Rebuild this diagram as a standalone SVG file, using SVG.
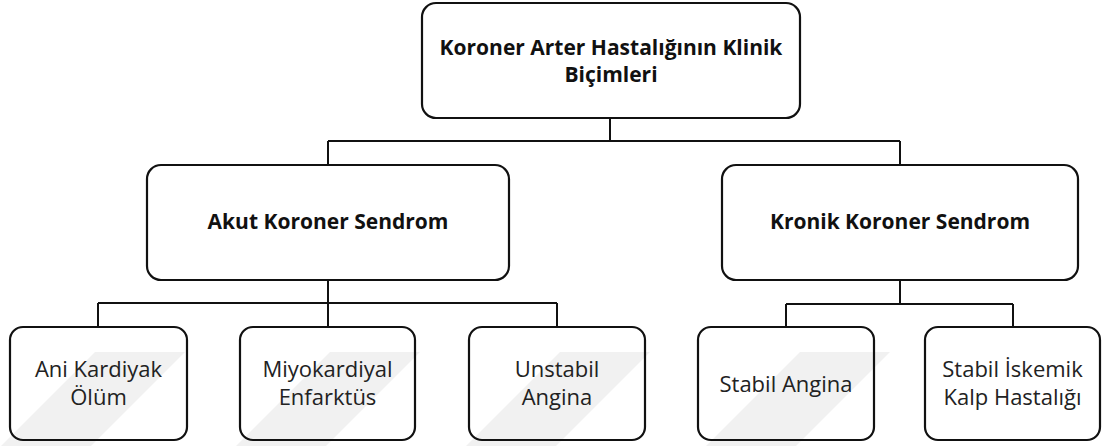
<svg xmlns="http://www.w3.org/2000/svg" width="1105" height="446" viewBox="0 0 1105 446">
  <style>
    .box { fill: none; stroke: #111; stroke-width: 2.2; }
    .conn { fill: none; stroke: #111; stroke-width: 2; }
    .wm { fill: #f1f1f1; }
    .b { font-family: "Open Sans", "Noto Sans", sans-serif; font-weight: bold; font-size: 21px; fill: #111; text-anchor: middle; }
    .r { font-family: "Open Sans", "Noto Sans", sans-serif; font-size: 22px; fill: #222; text-anchor: middle; }
  </style>
  <rect width="1105" height="446" fill="#fff"/>
  <g id="watermark">
    <polygon class="wm" points="95,352 185,352 91,446 1,446"/>
    <polygon class="wm" points="330,352 420,352 326,446 236,446"/>
    <polygon class="wm" points="560,352 650,352 556,446 466,446"/>
    <polygon class="wm" points="800,352 890,352 796,446 706,446"/>
  </g>
  <g id="connectors">
    <path class="conn" d="M610,118 V141 M328,141 H900 M328,141 V165 M900,141 V165"/>
    <path class="conn" d="M328,280 V303 M98,303 H557 M98,303 V327 M328,303 V327 M557,303 V327"/>
    <path class="conn" d="M900,280 V304 M786,304 H1013 M786,304 V327 M1013,304 V327"/>
  </g>
  <g id="n-root">
    <rect class="box" x="422" y="3" width="378" height="115" rx="14"/>
    <text class="b" x="611" y="55">Koroner Arter Hastalığının Klinik</text>
    <text class="b" x="611" y="82">Biçimleri</text>
  </g>
  <g id="n-akut">
    <rect class="box" x="147" y="165" width="362" height="115" rx="14"/>
    <text class="b" x="328" y="229">Akut Koroner Sendrom</text>
  </g>
  <g id="n-kronik">
    <rect class="box" x="722" y="165" width="356" height="115" rx="14"/>
    <text class="b" x="900" y="229">Kronik Koroner Sendrom</text>
  </g>
  <g id="n-ani">
    <rect class="box" x="10" y="327" width="177" height="113" rx="13"/>
    <text class="r" x="98.5" y="377">Ani Kardiyak</text>
    <text class="r" x="98.5" y="405">Ölüm</text>
  </g>
  <g id="n-miyo">
    <rect class="box" x="240" y="327" width="175" height="113" rx="13"/>
    <text class="r" x="327.5" y="377">Miyokardiyal</text>
    <text class="r" x="327.5" y="405">Enfarktüs</text>
  </g>
  <g id="n-unstabil">
    <rect class="box" x="469" y="327" width="176" height="113" rx="13"/>
    <text class="r" x="557" y="377">Unstabil</text>
    <text class="r" x="557" y="405">Angina</text>
  </g>
  <g id="n-stabil">
    <rect class="box" x="698" y="327" width="176" height="113" rx="13"/>
    <text class="r" x="786" y="392">Stabil Angina</text>
  </g>
  <g id="n-iskemik">
    <rect class="box" x="925" y="327" width="175" height="113" rx="13"/>
    <text class="r" x="1012.5" y="377">Stabil İskemik</text>
    <text class="r" x="1012.5" y="405">Kalp Hastalığı</text>
  </g>
</svg>
